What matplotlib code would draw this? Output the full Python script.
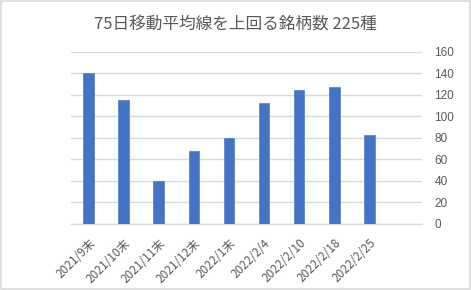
import matplotlib
matplotlib.use("Agg")
import matplotlib.pyplot as plt
from matplotlib.patches import Rectangle

categories = ["2021/9末", "2021/10末", "2021/11末", "2021/12末", "2022/1末",
              "2022/2/4", "2022/2/10", "2022/2/18", "2022/2/25", ""]
values = [140, 115, 40, 68, 80, 112, 124, 127, 83, None]
yticks = [0, 20, 40, 60, 80, 100, 120, 140, 160]
title = "75日移動平均線を上回る銘柄数 225種"

plt.rcParams['font.family'] = ['Noto Sans CJK JP', 'DejaVu Sans']

fig = plt.figure(figsize=(4.71, 2.90), dpi=100)
fig.patch.set_facecolor('white')
fig.add_artist(Rectangle((0.002, 0.003), 0.995, 0.994, transform=fig.transFigure,
                         fill=False, edgecolor='#D9D9D9', linewidth=1.2))

ax = fig.add_axes([71/471, 1-224/290, (422-71)/471, (224-51.7)/290])
xs = list(range(len(categories)))
bx = [x for x, v in zip(xs, values) if v is not None]
bv = [v for v in values if v is not None]
ax.bar(bx, bv, width=0.30, color='#4472C4', edgecolor='#5B86D0', linewidth=0.6, zorder=3)

ax.set_xlim(-0.5, len(categories) - 0.5)
ax.set_ylim(0, 160)
ax.set_yticks(yticks)
ax.yaxis.tick_right()
ax.grid(axis='y', color='#D9D9D9', linewidth=1.0, zorder=0)
for s in ['top', 'left', 'right']:
    ax.spines[s].set_visible(False)
ax.spines['bottom'].set_color('#D9D9D9')
ax.spines['bottom'].set_linewidth(1.0)
ax.tick_params(axis='y', length=0, pad=9, labelsize=8.5, labelcolor='#595959')
ax.tick_params(axis='x', length=0, pad=9, labelsize=8.5, labelcolor='#595959')
ax.set_xticks(xs)
ax.set_xticklabels(categories, rotation=45, ha='right', rotation_mode='anchor')
for lbl in ax.get_yticklabels():
    lbl.set_fontfamily(['Calibri', 'Liberation Sans', 'DejaVu Sans'])

fig.text(0.5, 1-24/290, title, ha='center', va='center', fontsize=12, color='#595959')

fig.savefig('out.png', dpi=100)
